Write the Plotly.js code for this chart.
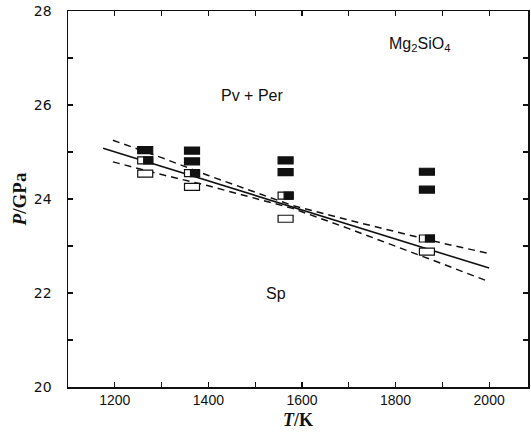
<!DOCTYPE html>
<html>
<head>
<meta charset="utf-8">
<script src="https://cdn.plot.ly/plotly-3.0.1.min.js"></script>
<style>html,body{margin:0;padding:0;background:#fff;}</style>
</head>
<body>
<div id="chart" style="width:531px;height:436px;"></div>
<script>
// Experimental points: temperature (K) and pressure (GPa)
const filledT = [1265, 1365, 1365, 1565, 1565, 1867, 1867];
const filledP = [25.04, 25.03, 24.80, 24.82, 24.57, 24.58, 24.20];
const halfT = [1265, 1365, 1565, 1867];
const halfP = [24.82, 24.55, 24.07, 23.16];
const openT = [1265, 1365, 1565, 1867];
const openP = [24.54, 24.26, 23.58, 22.88];

// Phase boundary (solid) and its confidence bands (dashed)
const boundaryT = [1175, 2000];
const boundaryP = [25.08, 22.53];
const bandT = [1196, 1300, 1400, 1500, 1580, 1700, 1800, 1900, 2000];
const upperP = [25.25, 24.88, 24.50, 24.14, 23.86, 23.55, 23.30, 23.06, 22.84];
const lowerP = [24.79, 24.52, 24.28, 24.02, 23.80, 23.37, 23.00, 22.62, 22.24];

// Labels
const xTickVals = [1200, 1400, 1600, 1800, 2000];
const yTickVals = [20, 22, 24, 26, 28];
const regionLabels = ["Mg<sub>2</sub>SiO<sub>4</sub>", "Pv + Per", "Sp"];
const regionT = [1852, 1494, 1545];
const regionP = [27.28, 26.21, 22.0];

const traces = [
  {x: boundaryT, y: boundaryP, mode: 'lines', line: {color: '#111', width: 1.6}, hoverinfo: 'skip'},
  {x: bandT, y: upperP, mode: 'lines', line: {color: '#111', width: 1.5, dash: '7px,5px'}, hoverinfo: 'skip'},
  {x: bandT, y: lowerP, mode: 'lines', line: {color: '#111', width: 1.5, dash: '7px,5px'}, hoverinfo: 'skip'}
];

const W = 7.5, H = 3.5; // half-size of rectangles in pixels
const shapes = [];
function box(t, p, fill) {
  shapes.push({type: 'rect', xref: 'x', yref: 'y', xsizemode: 'pixel', ysizemode: 'pixel',
    xanchor: t, yanchor: p, x0: -W, x1: W, y0: -H, y1: H,
    fillcolor: fill, line: {color: '#111', width: 1.2}});
}
filledT.forEach((t, i) => box(t, filledP[i], '#111'));
openT.forEach((t, i) => box(t, openP[i], '#fff'));
halfT.forEach((t, i) => {
  box(t, halfP[i], '#fff');
  shapes.push({type: 'rect', xref: 'x', yref: 'y', xsizemode: 'pixel', ysizemode: 'pixel',
    xanchor: t, yanchor: halfP[i], x0: -1.5, x1: W, y0: -H, y1: H,
    fillcolor: '#111', line: {color: '#111', width: 1.2}});
});

const annotations = regionLabels.map((txt, i) => ({
  x: regionT[i], y: regionP[i], xref: 'x', yref: 'y', text: txt, showarrow: false,
  font: {family: 'Liberation Sans, Arial, sans-serif', size: 16, color: '#111'}
}));

const axisCommon = {
  showline: true, linecolor: '#111', linewidth: 1.5, mirror: 'ticks',
  ticks: 'inside', ticklen: 5, tickwidth: 1.2, tickcolor: '#111',
  showgrid: false, zeroline: false,
  tickfont: {family: 'Liberation Sans, Arial, sans-serif', size: 14, color: '#111'}
};

const layout = {
  width: 531, height: 436,
  margin: {l: 68, r: 3, t: 11, b: 49},
  paper_bgcolor: '#fff', plot_bgcolor: '#fff',
  showlegend: false,
  xaxis: Object.assign({}, axisCommon, {
    range: [1100, 2083], tickmode: 'array', tickvals: xTickVals,
    minor: {dtick: 100, tick0: 1100, ticks: 'inside', ticklen: 5, tickwidth: 1.2, tickcolor: '#111'},
    title: {text: '<i>T</i>/K', font: {family: 'Liberation Serif, Times New Roman, serif', size: 18, color: '#111', weight: 'bold'}, standoff: 6}
  }),
  yaxis: Object.assign({}, axisCommon, {
    range: [20, 28], tickmode: 'array', tickvals: yTickVals,
    tickfont: {family: 'DejaVu Sans, sans-serif', size: 14, color: '#111'},
    minor: {dtick: 1, tick0: 20, ticks: 'inside', ticklen: 5, tickwidth: 1.2, tickcolor: '#111'},
    ticklabelstandoff: 12,
    title: {text: '<i>P</i>/GPa', font: {family: 'Liberation Serif, Times New Roman, serif', size: 19, color: '#111', weight: 'bold'}, standoff: 2}
  }),
  shapes: shapes,
  annotations: annotations
};

Plotly.newPlot('chart', traces, layout, {displayModeBar: false, staticPlot: true});
</script>
</body>
</html>
